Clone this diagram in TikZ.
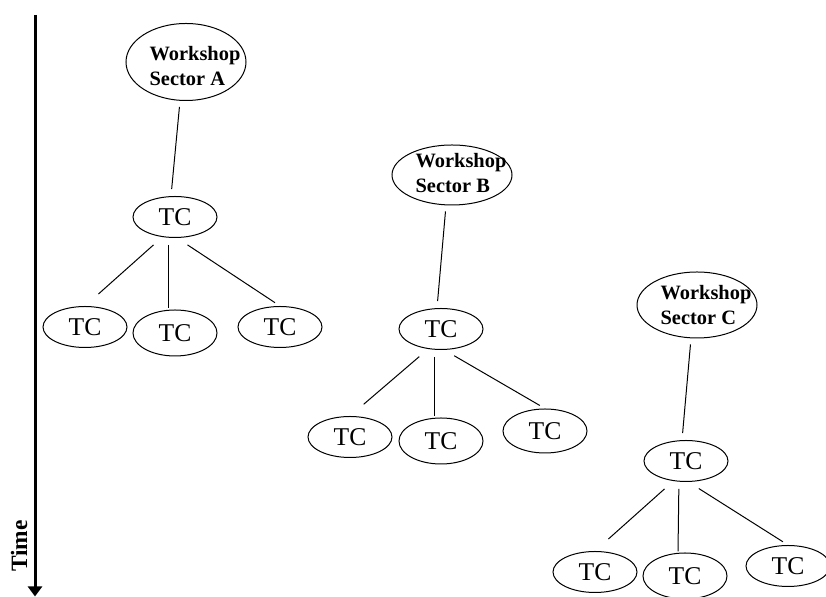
\documentclass[tikz,border=0pt]{standalone}
\usepackage{fontspec}
\setmainfont{Liberation Serif}
\usetikzlibrary{shapes.geometric,arrows.meta}

\begin{document}
\begin{tikzpicture}[x=0.5pt,y=-0.5pt,line width=0.5pt]
                \tikzset{Workshop/.style={ellipse, draw, minimum width=60pt, minimum height=30pt, inner sep=0pt},
                         WorkshopText/.style={font=\fontsize{10.2}{12.5}\selectfont\bfseries, align=left, xshift=4.5pt},
                         TC/.style={ellipse, draw, minimum width=42pt, minimum height=20.5pt, inner sep=0pt, font=\fontsize{12.8}{14}\selectfont},
                         Link/.style={shorten <=3pt, shorten >=3.5pt},
                         BranchL/.style={shorten <=9.7pt, shorten >=9pt},
                         BranchM/.style={shorten <=6.5pt, shorten >=0.5pt},
                         BranchR/.style={shorten <=11.7pt, shorten >=3pt}}
                \useasboundingbox (0,0) rectangle (826,597);
                % time axis
                \coordinate (T0) at (35,15);
                \coordinate (T1) at (35,596.5);
                \draw[line width=1.5pt, -{Triangle[width=7pt,length=5pt]}] (T0) -- (T1);
                \node[rotate=90, font=\fontsize{11.7}{14}\selectfont\bfseries] (Time) at (19,546) {Time};
                % sector A
                \node[Workshop, minimum height=38.5pt, label={[WorkshopText, yshift=-2pt]center:{Workshop\\Sector A}}] (WsA) at (186,62) {};
                \node[TC] (TcA) at (175,217) {TC};
                \node[TC] (TcA1) at (85,327) {TC};
                \node[TC, minimum height=23pt] (TcA2) at (175,333) {TC};
                \node[TC] (TcA3) at (280,327) {TC};
                % sector B
                \node[Workshop, label={[WorkshopText, yshift=1pt]center:{Workshop\\Sector B}}] (WsB) at (452,175) {};
                \node[TC] (TcB) at (441,329) {TC};
                \node[TC] (TcB1) at (350,437) {TC};
                \node[TC, minimum height=23pt] (TcB2) at (441,441) {TC};
                \node[TC, minimum height=22pt] (TcB3) at (545,431) {TC};
                % sector C
                \node[Workshop, minimum height=33pt, label={[WorkshopText]center:{Workshop\\Sector C}}] (WsC) at (697,305) {};
                \node[TC] (TcC) at (686,461) {TC};
                \node[TC] (TcC1) at (595,572) {TC};
                \node[TC, minimum height=23pt] (TcC2) at (685,576) {TC};
                \node[TC] (TcC3) at (788,566) {TC};
                % links
                \draw[Link] ([xshift=-3pt]WsA.south) -- ([xshift=-2pt]TcA.north);
                \draw[Link] ([xshift=-3pt]WsB.south) -- ([xshift=-2pt]TcB.north);
                \draw[Link] ([xshift=-3pt]WsC.south) -- ([xshift=-2pt]TcC.north);
                \draw[BranchL] ([shift={(-3.5pt,-7.5pt)}]TcA.center) -- (TcA1.north);
                \draw[BranchM] ([shift={(-3.5pt,-7.5pt)}]TcA.center) -- ([xshift=-3.5pt]TcA2.north);
                \draw[BranchR] ([shift={(-3.5pt,-7.5pt)}]TcA.center) -- (TcA3.north);
                \draw[BranchL] ([shift={(-3.5pt,-7.5pt)}]TcB.center) -- (TcB1.north);
                \draw[BranchM] ([shift={(-3.5pt,-7.5pt)}]TcB.center) -- ([xshift=-3.5pt]TcB2.north);
                \draw[BranchR] ([shift={(-3.5pt,-7.5pt)}]TcB.center) -- (TcB3.north);
                \draw[BranchL] ([shift={(-3.5pt,-7.5pt)}]TcC.center) -- (TcC1.north);
                \draw[BranchM] ([shift={(-3.5pt,-7.5pt)}]TcC.center) -- ([xshift=-3.5pt]TcC2.north);
                \draw[BranchR] ([shift={(-3.5pt,-7.5pt)}]TcC.center) -- (TcC3.north);
            \end{tikzpicture}
\end{document}
